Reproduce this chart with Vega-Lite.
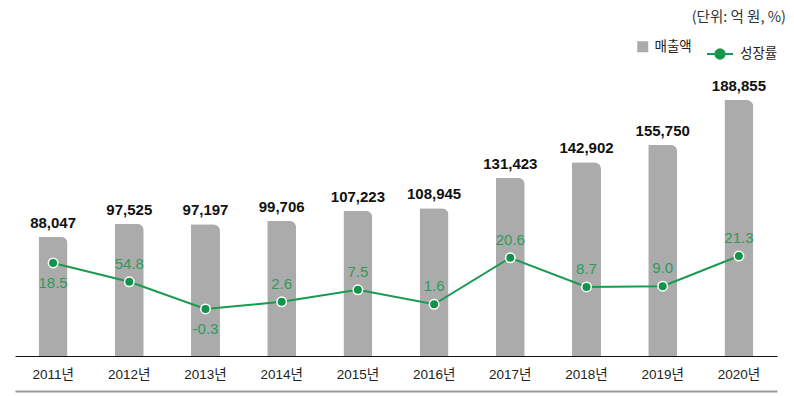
{
  "$schema": "https://vega.github.io/schema/vega-lite/v6.json",
  "autosize": {"type": "none"},
  "padding": {"left": 15, "top": 76, "right": 17, "bottom": 40},
  "width": 762,
  "height": 280,
  "background": "white",
  "view": {"stroke": null},
  "config": {
    "font": "Noto Sans CJK KR",
    "text": {"font": "Liberation Sans"},
    "legend": {"labelFont": "Noto Sans CJK KR", "labelFontSize": 13.5, "labelColor": "#222222", "padding": 0}
  },
  "title": {
    "text": "(단위: 억 원, %)",
    "anchor": "end",
    "fontSize": 14.5,
    "fontWeight": "normal",
    "color": "#333333",
    "font": "Noto Sans CJK KR",
    "offset": 15,
    "dx": 8
  },
  "data": {
    "values": [
      {"year": "2011년", "sales": 88047, "growth": 18.5, "label": "18.5"},
      {"year": "2012년", "sales": 97525, "growth": 10.8, "label": "54.8"},
      {"year": "2013년", "sales": 97197, "growth": -0.3, "label": "-0.3"},
      {"year": "2014년", "sales": 99706, "growth": 2.6, "label": "2.6"},
      {"year": "2015년", "sales": 107223, "growth": 7.5, "label": "7.5"},
      {"year": "2016년", "sales": 108945, "growth": 1.6, "label": "1.6"},
      {"year": "2017년", "sales": 131423, "growth": 20.6, "label": "20.6"},
      {"year": "2018년", "sales": 142902, "growth": 8.7, "label": "8.7"},
      {"year": "2019년", "sales": 155750, "growth": 9.0, "label": "9.0"},
      {"year": "2020년", "sales": 188855, "growth": 21.3, "label": "21.3"}
    ]
  },
  "encoding": {
    "x": {
      "field": "year",
      "type": "nominal",
      "sort": null,
      "scale": {"paddingInner": 0.62, "paddingOuter": 0.31}
    }
  },
  "layer": [
    {
      "layer": [
        {
          "mark": {"type": "bar", "cornerRadiusTopRight": 7},
          "encoding": {
            "x": {
              "field": "year", "type": "nominal", "sort": null,
              "axis": {
                "orient": "bottom",
                "title": null, "ticks": false, "labelAngle": 0, "labelPadding": 11,
                "labelFontSize": 13.5, "labelColor": "#222222", "labelFont": "Liberation Sans, Noto Sans CJK KR",
                "domainColor": "#111111", "domainWidth": 1.2, "grid": false
              }
            },
            "y": {"field": "sales", "type": "quantitative", "scale": {"domain": [0, 206550]}, "axis": null},
            "color": {
              "datum": "매출액",
              "type": "nominal",
              "scale": {"range": ["#ababab"]},
              "legend": {
                "title": null, "orient": "none", "legendX": 621, "legendY": -36,
                "symbolType": "square", "symbolSize": 121, "symbolStrokeWidth": 0,
                "labelOffset": 5
              }
            }
          }
        },
        {
          "mark": {"type": "text", "baseline": "alphabetic", "dy": -9, "fontSize": 15, "fontWeight": "bold", "color": "#111111", "font": "Liberation Sans"},
          "encoding": {
            "y": {"field": "sales", "type": "quantitative", "scale": {"domain": [0, 206550]}},
            "text": {"field": "sales", "type": "quantitative", "format": ","}
          }
        }
      ]
    },
    {
      "layer": [
        {
          "mark": {"type": "line", "strokeWidth": 2},
          "encoding": {
            "x": {
              "field": "year", "type": "nominal", "sort": null,
              "axis": {"orient": "bottom", "title": null, "labels": false, "ticks": false, "offset": 35, "domainColor": "#9a9a9a", "domainWidth": 2, "grid": false}
            },
            "y": {"field": "growth", "type": "quantitative", "scale": {"domain": [-19.5, 94.8]}, "axis": null},
            "stroke": {
              "datum": "성장률",
              "type": "nominal",
              "scale": {"range": ["#1a9a50"]},
              "legend": {
                "title": null, "orient": "none", "legendX": 691, "legendY": -36,
                "symbolType": "M-1,0H1M-0.36,0A0.36,0.36,0,1,0,0.36,0A0.36,0.36,0,1,0,-0.36,0Z",
                "symbolSize": 676, "symbolStrokeWidth": 2, "labelOffset": 6,
                "encode": {"symbols": {"update": {"fill": {"value": "#0f944a"}, "stroke": {"value": "#1a9a50"}}}}
              }
            }
          }
        },
        {
          "mark": {"type": "point", "filled": true, "size": 90, "color": "#0f944a", "stroke": "white", "strokeWidth": 1.5, "opacity": 1},
          "encoding": {
            "y": {"field": "growth", "type": "quantitative", "scale": {"domain": [-19.5, 94.8]}}
          }
        },
        {
          "transform": [{"filter": "datum.year !== '2011년' && datum.year !== '2013년'"}],
          "mark": {"type": "text", "baseline": "middle", "dy": -18, "fontSize": 15, "color": "#2e9a5a", "font": "Liberation Sans"},
          "encoding": {
            "y": {"field": "growth", "type": "quantitative", "scale": {"domain": [-19.5, 94.8]}},
            "text": {"field": "label", "type": "nominal"}
          }
        },
        {
          "transform": [{"filter": "datum.year === '2011년' || datum.year === '2013년'"}],
          "mark": {"type": "text", "baseline": "middle", "dy": 20, "fontSize": 15, "color": "#2e9a5a", "font": "Liberation Sans"},
          "encoding": {
            "y": {"field": "growth", "type": "quantitative", "scale": {"domain": [-19.5, 94.8]}},
            "text": {"field": "label", "type": "nominal"}
          }
        }
      ]
    }
  ],
  "resolve": {"scale": {"y": "independent"}, "axis": {"x": "independent"}}
}
